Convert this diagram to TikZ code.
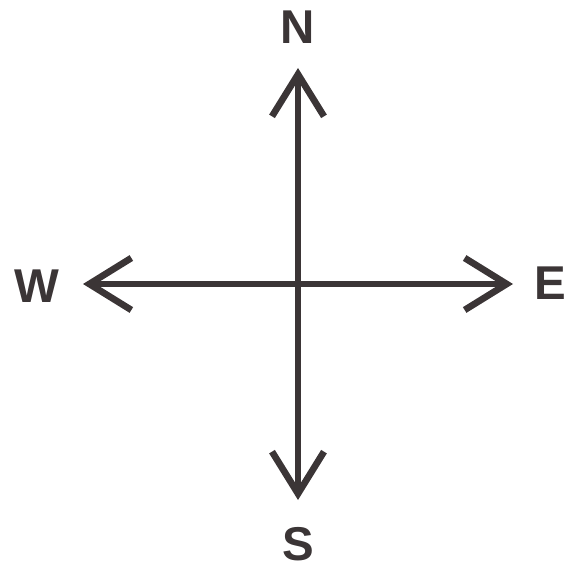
\documentclass[tikz,border=0pt]{standalone}
\usepackage{fontspec}
\setmainfont{Liberation Sans}
\usepackage{xcolor}
\usepackage{tikz}
\usetikzlibrary{arrows.meta}
\definecolor{darkline}{RGB}{59,53,54}

\begin{document}
\begin{tikzpicture}[
  dirlbl/.style={text=darkline, font=\fontsize{13.5}{16}\selectfont\bfseries, inner sep=0pt},
  arr/.style={-{Straight Barb[length=4.2mm, width=5.2mm]}, line width=1.9pt, draw=darkline}
]
\useasboundingbox (0,0) rectangle (5.68,-5.75);

\coordinate (ctr) at (2.98,-2.84);
\coordinate (ntip) at (2.98,-0.68);
\coordinate (stip) at (2.98,-5.00);
\coordinate (wtip) at (0.83,-2.84);
\coordinate (etip) at (5.13,-2.84);

\node[dirlbl] (nlbl) at (2.98,-0.27) {N};
\node[dirlbl] (slbl) at (2.98,-5.44) {S};
\node[dirlbl] (wlbl) at (0.37,-2.86) {W};
\node[dirlbl] (elbl) at (5.50,-2.83) {E};

\draw[arr] (ctr) -- (ntip);
\draw[arr] (ctr) -- (stip);
\draw[arr] (ctr) -- (wtip);
\draw[arr] (ctr) -- (etip);

\end{tikzpicture}
\end{document}
